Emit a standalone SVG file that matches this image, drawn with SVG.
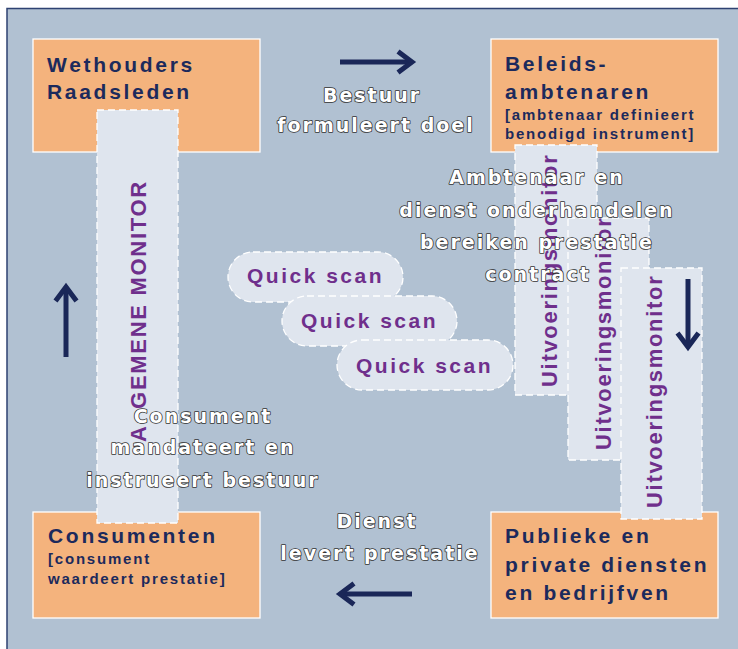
<svg xmlns="http://www.w3.org/2000/svg" width="738" height="649" viewBox="0 0 738 649">
<style>
.nodebox{fill:#f4b37d;stroke:#ffffff;stroke-width:1.3}
.strip{fill:#dfe5ee;stroke:#ffffff;stroke-width:1.3;stroke-dasharray:7 4}
.nt{font-family:"Liberation Sans",Arial,sans-serif;font-weight:bold;font-size:21px;letter-spacing:2.7px;fill:#1c2a5c}
.ns{font-family:"Liberation Sans",Arial,sans-serif;font-weight:bold;font-size:15px;letter-spacing:1.8px;fill:#1c2a5c}
.mt{font-family:"Liberation Sans",Arial,sans-serif;font-weight:bold;font-size:22px;letter-spacing:1.7px;fill:#6f2f8c}
.qs{font-family:"Liberation Sans",Arial,sans-serif;font-weight:bold;font-size:21px;letter-spacing:2.5px;fill:#6f2f8c}
.lbl{font-family:"DejaVu Sans","Liberation Sans",Arial,sans-serif;font-weight:bold;font-size:19px;letter-spacing:2px;fill:#ffffff;stroke:#333333;stroke-width:1.6;paint-order:stroke fill;stroke-linejoin:round;text-anchor:middle}
.arr{fill:none;stroke:#1a2758;stroke-width:5}
</style>
<rect x="0" y="0" width="738" height="649" fill="#ffffff"/>
<rect x="7" y="8.5" width="740" height="650" fill="#b1c1d2" stroke="#2e4272" stroke-width="1.5"/>

<g id="wethouders">
<rect class="nodebox" x="33" y="39" width="227" height="113"/>
<text class="nt" x="47" y="72">Wethouders</text>
<text class="nt" x="47" y="99">Raadsleden</text>
</g>
<g id="beleidsambtenaren">
<rect class="nodebox" x="491" y="39" width="227" height="113"/>
<text class="nt" x="505" y="71">Beleids-</text>
<text class="nt" x="505" y="99">ambtenaren</text>
<text class="ns" x="505" y="120">[ambtenaar definieert</text>
<text class="ns" x="505" y="139">benodigd instrument]</text>
</g>
<g id="consumenten">
<rect class="nodebox" x="33" y="512" width="227" height="106"/>
<text class="nt" x="48" y="543">Consumenten</text>
<text class="ns" x="48" y="564">[consument</text>
<text class="ns" x="48" y="584">waardeert prestatie]</text>
</g>
<g id="publieke">
<rect class="nodebox" x="491" y="512" width="227" height="106"/>
<text class="nt" x="505" y="543">Publieke en</text>
<text class="nt" x="505" y="572">private diensten</text>
<text class="nt" x="505" y="600">en bedrijfven</text>
</g>

<g id="algemene-monitor">
<rect class="strip" x="97" y="110" width="81" height="413"/>
<text class="mt" transform="translate(146,442) rotate(-90)">A<tspan dx="15.5">GEMENE MONITOR</tspan></text>
</g>
<g id="uitvoeringsmonitor-1">
<rect class="strip" x="515" y="145" width="82" height="250"/>
<text class="mt" transform="translate(557,387) rotate(-90)">Uitvoeringsmonitor</text>
</g>
<g id="uitvoeringsmonitor-2">
<rect class="strip" x="568" y="218" width="81" height="242"/>
<text class="mt" transform="translate(611,450) rotate(-90)">Uitvoeringsmonitor</text>
</g>
<g id="uitvoeringsmonitor-3">
<rect class="strip" x="621" y="268" width="81" height="251"/>
<text class="mt" transform="translate(662,508) rotate(-90)">Uitvoeringsmonitor</text>
</g>

<g id="quickscan-1">
<rect class="strip" x="228" y="252" width="175" height="50" rx="25"/>
<text class="qs" x="247" y="283">Quick scan</text>
</g>
<g id="quickscan-2">
<rect class="strip" x="282" y="296" width="175" height="50" rx="25"/>
<text class="qs" x="301" y="328">Quick scan</text>
</g>
<g id="quickscan-3">
<rect class="strip" x="337" y="340" width="176" height="50" rx="25"/>
<text class="qs" x="356" y="373">Quick scan</text>
</g>

<g id="connectors">
<line class="arr" x1="340" y1="62" x2="411" y2="62"/>
<polyline class="arr" points="398,51.5 412,62 398,72.5" stroke-linejoin="miter"/>
<line class="arr" x1="66" y1="357" x2="66" y2="288"/>
<polyline class="arr" points="55.5,301 66,287 76.5,301" stroke-linejoin="miter"/>
<line class="arr" x1="688" y1="279" x2="688" y2="347"/>
<polyline class="arr" points="677.5,333 688,347 698.5,333" stroke-linejoin="miter"/>
<line class="arr" x1="412" y1="594" x2="341" y2="594"/>
<polyline class="arr" points="354,583.5 340,594 354,604.5" stroke-linejoin="miter"/>
</g>

<g id="labels">
<text class="lbl" x="372" y="102">Bestuur</text>
<text class="lbl" x="376" y="132">formuleert doel</text>
<text class="lbl" x="537" y="184">Ambtenaar en</text>
<text class="lbl" x="537" y="217">dienst onderhandelen</text>
<text class="lbl" x="537" y="249">bereiken prestatie</text>
<text class="lbl" x="538" y="281">contract</text>
<text class="lbl" x="203" y="423">Consument</text>
<text class="lbl" x="203" y="454">mandateert en</text>
<text class="lbl" x="203" y="487">instrueert bestuur</text>
<text class="lbl" x="377" y="528">Dienst</text>
<text class="lbl" x="380" y="560">levert prestatie</text>
</g>
</svg>
